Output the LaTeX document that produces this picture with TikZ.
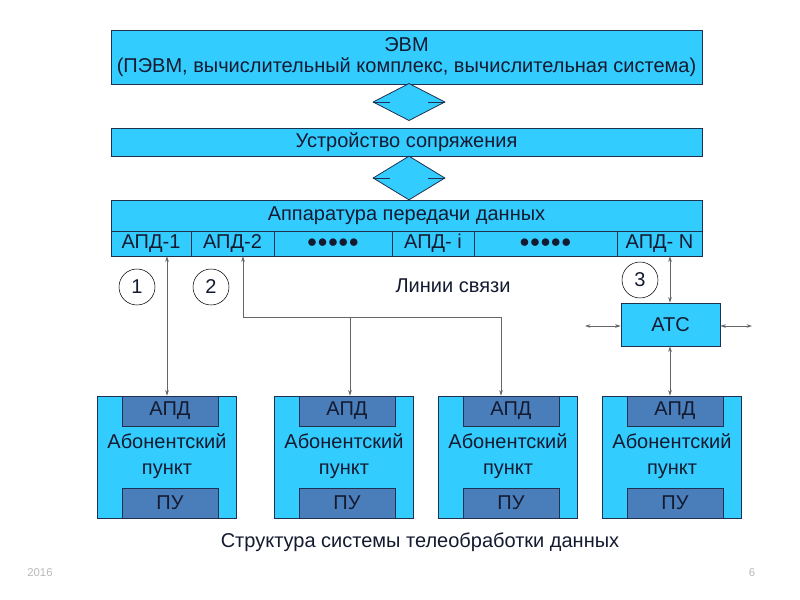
\documentclass[tikz,border=0pt]{standalone}
\usepackage{fontspec}
\setmainfont{Liberation Sans}
\usetikzlibrary{shapes.geometric,fit,arrows.meta}
\definecolor{cyanbox}{HTML}{33CCFF}
\definecolor{innerbox}{HTML}{4A7EBB}
\definecolor{edge}{HTML}{1F3050}
\definecolor{txt}{HTML}{141A30}
\definecolor{wire}{HTML}{666666}
\begin{document}
\begin{tikzpicture}[x=0.75pt,y=-0.75pt,
  box/.style={draw=edge,line width=0.6pt,fill=cyanbox,inner sep=0pt,text=txt,font=\fontsize{15}{18}\selectfont,align=center},
  ibox/.style={box,fill=innerbox},
  dia/.style={draw=edge,line width=0.6pt,fill=cyanbox,diamond,inner sep=0pt},
  num/.style={draw=black,line width=0.4pt,circle,minimum size=27pt,inner sep=0pt,fill=white,font=\fontsize{15}{18}\selectfont,text=txt},
  lbl/.style={text=txt,font=\fontsize{15}{18}\selectfont,align=center},
  dots/.style={text=txt,font=\fontsize{13}{15}\selectfont},
  foot/.style={text=gray!55,font=\fontsize{8.5}{10}\selectfont},
  wr/.style={draw=wire,line width=0.5pt},
  tip/.tip={Stealth[length=4pt,width=2.6pt]}]
\fill[white] (0,0) rectangle (800,600);
\useasboundingbox (0,0) rectangle (800,600);
% top blocks
\node[box,fit={(111,30)(702,84)}] (evm) {};
\node[lbl] (evmt) at (evm.center) {ЭВМ\\[-2pt](ПЭВМ, вычислительный комплекс, вычислительная система)};
\node[dia,minimum width=54pt,minimum height=28pt] (d1) at (409,102) {};
\node[box,fit={(111,128)(702,156)}] (sopr) {};
\node[lbl] (soprt) at (sopr.center) {Устройство сопряжения};
\node[dia,minimum width=54pt,minimum height=33pt] (d2) at (409,178) {};
\draw[edge,line width=0.5pt] (d1.west) -- ++(17,0) (d1.east) -- ++(-17,0);
\draw[edge,line width=0.5pt] (d2.west) -- ++(17,0) (d2.east) -- ++(-17,0);
% APD block
\node[box,fit={(111,200)(702,231)}] (apdt) {};
\node[lbl] (apdtt) at (apdt.center) {Аппаратура передачи данных};
\node[box,fit={(111,231)(191,256)}] (c1) {};
\node[box,fit={(191,231)(274,256)}] (c2) {};
\node[box,fit={(274,231)(392,256)}] (c3) {};
\node[box,fit={(392,231)(474,256)}] (c4) {};
\node[box,fit={(474,231)(617,256)}] (c5) {};
\node[box,fit={(617,231)(702,256)}] (c6) {};
\node[lbl] (t1) at (c1.center) {АПД-1};
\node[lbl] (t2) at (c2.center) {АПД-2};
\node[dots] (t3) at (c3.center) {●●●●●};
\node[lbl] (t4) at (c4.center) {АПД- i};
\node[dots] (t5) at (c5.center) {●●●●●};
\node[lbl] (t6) at (c6.center) {АПД- N};
% subscriber points
\foreach \i/\x in {1/97,2/274,3/438,4/602}{
  \node[box,fit={(\x,396)(\x+139,518)}] (ab\i) {};
  \node[ibox,fit={(\x+25,396)(\x+121,426)}] (ap\i) {};
  \node[lbl] at (ap\i.center) {АПД};
  \node[ibox,fit={(\x+25,488)(\x+121,518)}] (pu\i) {};
  \node[lbl] at (pu\i.center) {ПУ};
  \node[lbl] (abt\i) at (\x+70,456) {Абонентский\\[1pt]пункт};
}
% ATC
\node[box,fit={(621,303)(720,346)}] (atc) {};
\node[lbl] (atct) at (atc.center) {АТС};
% numbers and labels
\node[num] (n1) at (137,287) {1};
\node[num] (n2) at (211,287) {2};
\node[num] (n3) at (640,280) {3};
\node[lbl] (ls) at (453,286) {Линии связи};
% connectors
\coordinate (x1) at (167,0);
\coordinate (x2) at (243,317);
\coordinate (b2) at (350,317);
\coordinate (b3) at (501,317);
\draw[wr,tip-tip] (c1.south -| x1) -- (ap1.north -| x1);
\draw[wr,tip-tip] (c2.south -| x2) -- (x2) -- (b3) -- (ap3.north -| b3);
\draw[wr,-tip] (b2) -- (ap2.north -| b2);
\coordinate (x3) at (670,0);
\draw[wr,tip-tip] (c6.south -| x3) -- (atc.north -| x3);
\draw[wr,tip-tip] (atc.south -| x3) -- (ap4.north -| x3);
\coordinate (aL) at (585,326);
\coordinate (aR) at (752,326);
\draw[wr,tip-tip] (aL) -- (atc.west |- aL);
\draw[wr,tip-tip] (atc.east |- aR) -- (aR);
% caption and footer
\node[lbl] (cap) at (420,542) {Структура системы телеобработки данных};
\node[foot] (yr) at (40,573) {2016};
\node[foot] (pg) at (752,573) {6};
\end{tikzpicture}
\end{document}
